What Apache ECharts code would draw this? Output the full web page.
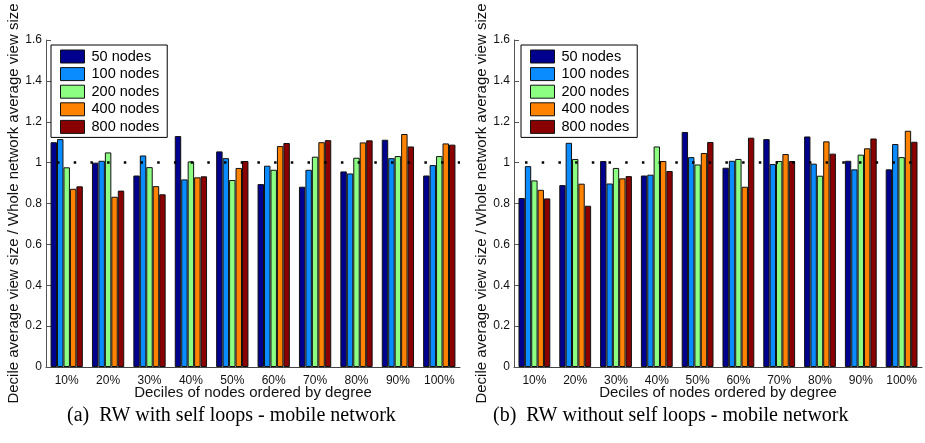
<!DOCTYPE html>
<html>
<head>
<meta charset="utf-8">
<script src="https://cdn.jsdelivr.net/npm/echarts@6/dist/echarts.min.js"></script>
<style>html,body{margin:0;padding:0;background:#fff}#c{width:925px;height:443px}</style>
</head>
<body>
<div id="c"></div>
<script>
var categories = ['10%','20%','30%','40%','50%','60%','70%','80%','90%','100%'];
var seriesNames = ['50 nodes','100 nodes','200 nodes','400 nodes','800 nodes'];
var yTicks = [0, 0.2, 0.4, 0.6, 0.8, 1, 1.2, 1.4, 1.6];
var referenceLevel = 1;

// (a) RW with self loops
var a50  = [1.10, 1.00, 0.937, 1.13, 1.055, 0.895, 0.882, 0.957, 1.112, 0.937];
var a100 = [1.115, 1.009, 1.035, 0.918, 1.022, 0.985, 0.965, 0.947, 1.022, 0.988];
var a200 = [0.977, 1.05, 0.978, 1.006, 0.915, 0.965, 1.029, 1.024, 1.032, 1.032];
var a400 = [0.872, 0.833, 0.885, 0.928, 0.974, 1.081, 1.10, 1.099, 1.14, 1.094];
var a800 = [0.884, 0.863, 0.845, 0.933, 1.008, 1.096, 1.11, 1.109, 1.079, 1.088];

// (b) RW without self loops
var b50  = [0.827, 0.890, 1.008, 0.937, 1.15, 0.975, 1.115, 1.128, 1.009, 0.967];
var b100 = [0.983, 1.097, 0.898, 0.941, 1.027, 1.009, 0.993, 0.995, 0.967, 1.091];
var b200 = [0.913, 1.018, 0.974, 1.079, 0.991, 1.018, 1.008, 0.936, 1.039, 1.027];
var b400 = [0.867, 0.897, 0.923, 1.008, 1.047, 0.882, 1.042, 1.104, 1.07, 1.156];
var b800 = [0.825, 0.789, 0.934, 0.959, 1.101, 1.122, 1.008, 1.044, 1.118, 1.102];

var colors = ['#00008F', '#0A8CFF', '#8CFF82', '#FF8200', '#8A0000'];
var dataA = [a50, a100, a200, a400, a800];
var dataB = [b50, b100, b200, b400, b800];

var SANS = "'Liberation Sans', Arial, Helvetica, sans-serif";
var SERIF = "'Liberation Serif', 'Times New Roman', serif";

function makeX(idx) {
  return {
    type: 'category', gridIndex: idx, data: categories,
    axisLine: {lineStyle: {color: '#444', width: 1}},
    axisTick: {show: false},
    axisLabel: {color: '#111', fontFamily: SANS, fontSize: 12, margin: 8},
    name: 'Deciles of nodes ordered by degree',
    nameLocation: 'middle', nameGap: 18, nameMoveOverlap: false,
    nameTextStyle: {color: '#111', fontFamily: SANS, fontSize: 15}
  };
}
function makeY(idx) {
  return {
    type: 'value', gridIndex: idx, min: yTicks[0], max: yTicks[yTicks.length-1], interval: 0.2,
    axisLine: {show: true, lineStyle: {color: '#555', width: 1}},
    axisTick: {show: true, inside: true, length: 5, lineStyle: {color: '#555'}},
    splitLine: {show: false},
    axisLabel: {color: '#111', fontFamily: SANS, fontSize: 12, margin: 4},
    name: 'Decile average view size / Whole network average view size',
    nameLocation: 'middle', nameGap: 25,
    nameTextStyle: {color: '#111', fontFamily: SANS, fontSize: 15}
  };
}
var series = [];
function addSeries(data, idx) {
  for (var i = 0; i < seriesNames.length; i++) {
    var s = {
      name: seriesNames[i], type: 'bar', xAxisIndex: idx, yAxisIndex: idx,
      data: data[i],
      barGap: '0%', barCategoryGap: '22%',
      itemStyle: {color: colors[i], borderColor: '#111', borderWidth: 1},
      emphasis: {disabled: true},
      animation: false
    };
    if (i === 0) {
      s.markLine = {
        silent: true, symbol: 'none', animation: false,
        label: {show: false},
        lineStyle: {color: '#000', width: 2.5, type: [2.5, 14.2], dashOffset: 5.7},
        data: [{yAxis: referenceLevel}]
      };
    }
    series.push(s);
  }
}
addSeries(dataA, 0);
addSeries(dataB, 1);

function makeLegend(left) {
  return {
    orient: 'vertical', left: left, top: 45,
    data: seriesNames,
    itemWidth: 24, itemHeight: 13, itemGap: 2.6,
    icon: 'rect',
    padding: [4, 8, 3, 9],
    borderColor: '#000', borderWidth: 1,
    backgroundColor: '#fff',
    selectedMode: false,
    itemStyle: {borderColor: '#111', borderWidth: 1},
    textStyle: {fontFamily: SANS, fontSize: 14.5, color: '#000', padding: [0,0,0,2]}
  };
}

var chart = echarts.init(document.getElementById('c'), null, {renderer: 'canvas'});
chart.setOption({
  animation: false,
  backgroundColor: '#fff',
  grid: [
    {left: 46, top: 40, width: 414, height: 327},
    {left: 514, top: 40, width: 408, height: 327}
  ],
  xAxis: [makeX(0), makeX(1)],
  yAxis: [makeY(0), makeY(1)],
  legend: [makeLegend(51), makeLegend(521)],
  series: series,
  graphic: [
    {type: 'text', left: 67, top: 406, style: {text: '(a)  RW with self loops - mobile network', font: '20px ' + SERIF, fill: '#000'}},
    {type: 'text', left: 493, top: 406, style: {text: '(b)  RW without self loops - mobile network', font: '20px ' + SERIF, fill: '#000'}}
  ]
});
</script>
</body>
</html>
